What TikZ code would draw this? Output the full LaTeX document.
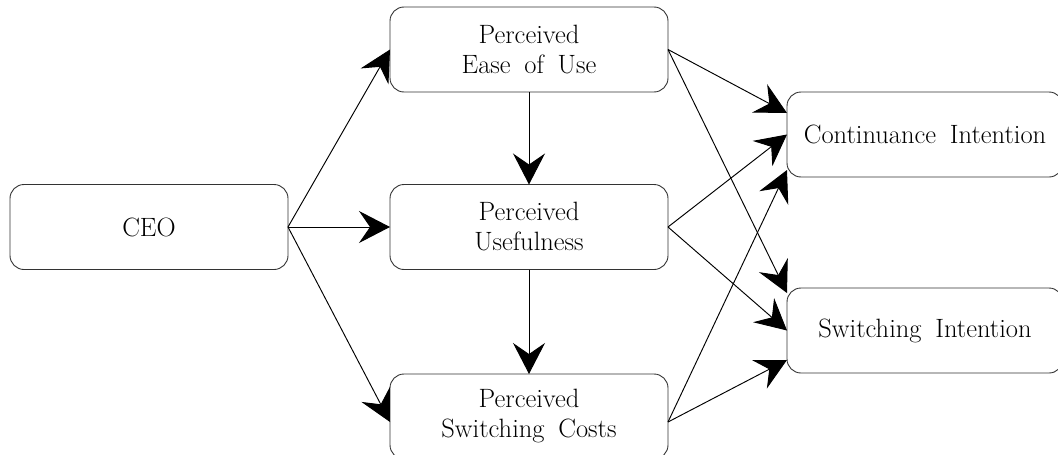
\documentclass[tikz,border=0pt]{standalone}
\usetikzlibrary{arrows.meta}
\begin{document}
\begin{tikzpicture}[x=1pt,y=-1pt,
  box/.style={draw=black!80, line width=0.9pt, rounded corners=14pt,
    minimum height=85pt, inner sep=0pt, outer sep=0pt, align=center,
    font={\fontsize{26.5}{30}\selectfont\spaceskip=0.52em plus 0.1em}},
  conn/.style={line width=0.95pt, -{Stealth[length=31pt,width=32pt,inset=11pt]}}]
\useasboundingbox (0,0) rectangle (1058,455);
\begin{scope}
\clip (0,0) rectangle (1058,455);
\node[box, minimum width=278pt] (ceo)  at (149,227)   {CEO};
\node[box, minimum width=278pt] (peou) at (529,49.5)  {Perceived\\Ease of Use};
\node[box, minimum width=278pt] (pu)   at (529,227)   {Perceived\\Usefulness};
\node[box, minimum width=278pt] (psc)  at (529,416.5) {Perceived\\Switching Costs};
\node[box, minimum width=276pt] (ci)   at (925,134.5) {Continuance Intention};
\node[box, minimum width=276pt] (si)   at (925,330.5) {Switching Intention};
\end{scope}
\draw[conn] (ceo.east) -- (peou.west);
\draw[conn] (ceo.east) -- (pu.west);
\draw[conn] (ceo.east) -- ([yshift=-5.5pt]psc.west);
\draw[conn] (peou.south) -- (pu.north);
\draw[conn] (pu.south) -- (psc.north);
\draw[conn] (peou.east) -- ([yshift=21.5pt]ci.west);
\draw[conn] (peou.east) -- ([yshift=37.5pt]si.west);
\draw[conn] (pu.east) -- (ci.west);
\draw[conn] (pu.east) -- (si.west);
\draw[conn] ([yshift=-5.5pt]psc.east) -- ([yshift=-35.5pt]ci.west);
\draw[conn] ([yshift=-5.5pt]psc.east) -- ([yshift=-29.5pt]si.west);
\end{tikzpicture}
\end{document}
